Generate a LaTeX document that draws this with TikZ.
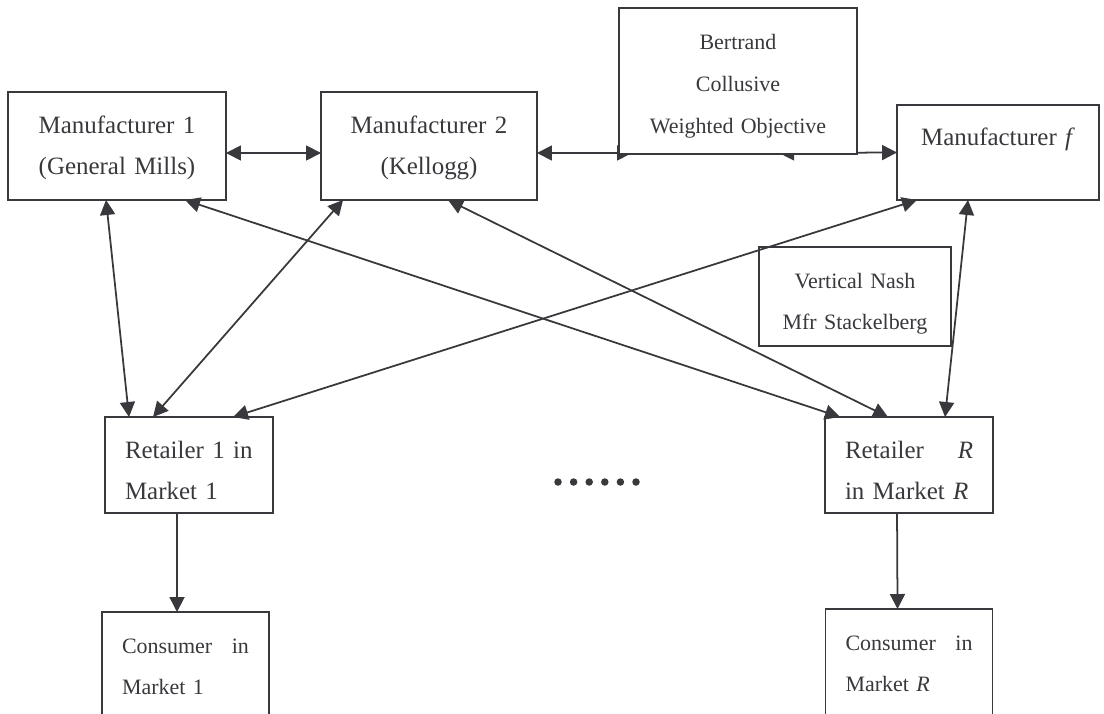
\documentclass[tikz,border=0pt]{standalone}
\usepackage{fontspec}
\setmainfont{Liberation Serif}
\usepackage{tikz}
\usetikzlibrary{positioning,arrows.meta,calc,backgrounds}
\definecolor{ink}{HTML}{38383D}
\newcommand{\bigtxt}{\fontsize{14.2}{23.8}\selectfont}
\newcommand{\smalltxt}{\fontsize{12.5}{23.8}\selectfont}
\tikzset{
  box/.style  ={rectangle, draw=ink, line width=1pt, inner sep=0pt, outer sep=0pt,
                anchor=base, text=ink},
  mfr/.style  ={box, font=\bigtxt, align=center},
  mode/.style ={box, font=\smalltxt, align=center},
  shop/.style ={box, font=\bigtxt, align=left, text width=2.56cm, inner xsep=0.4cm},
  buyer/.style={box, font=\smalltxt, align=left, text width=2.54cm, inner xsep=0.4cm},
  % two-way link between stages of the channel
  link/.style ={draw=ink, line width=1pt,
                {Triangle[length=0.3cm,width=0.3cm]}-{Triangle[length=0.3cm,width=0.3cm]}},
  flow/.style ={draw=ink, line width=1pt, -{Triangle[length=0.3cm,width=0.3cm]}},
}
% from node / x offset on its bottom edge / to node / x offset on its top edge
\def\crosslinks{M1/98/R1/24, M2/22/R1/48, M1/177/RR/15,
                M2/127/RR/63, Mf/20/R1/128, Mf/71/RR/120}

\begin{document}
\begin{tikzpicture}[x=0.02cm, y=-0.02cm]
\useasboundingbox (0,0) rectangle (1104,713);
\clip (0,0) rectangle (1104,713);
% manufacturers
\node[mfr, text width=4.36cm, text height=0.82cm, text depth=1.34cm] (M1) at (117,133)
  {Manufacturer 1\\(General Mills)};
\node[mfr, text width=4.32cm, text height=0.82cm, text depth=1.34cm] (M2) at (429,133)
  {Manufacturer 2\\(Kellogg)};
\node[mfr, text width=4.04cm, text height=0.80cm, text depth=1.10cm] (Mf) at (998,145)
  {Manufacturer \textit{f}};
% conduct boxes
\node[mode, fill=white, text width=4.76cm, text height=0.84cm, text depth=2.08cm] (Bt) at (738,50)
  {Bertrand\\Collusive\\Weighted Objective};
\node[mode, text width=3.84cm, text height=0.82cm, text depth=1.16cm] (VN) at (855,288)
  {Vertical Nash\\Mfr Stackelberg};
% retailers and consumers
\node[shop, text height=0.82cm, text depth=1.10cm] (R1) at (189,458) {Retailer 1 in\\Market 1};
\node[shop, text height=0.82cm, text depth=1.10cm] (RR) at (909,458)
  {Retailer\hfill\textit{R}\\in Market \textit{R}};
\node[buyer, text height=0.82cm, text depth=1.34cm] (C1) at (185.5,653) {Consumer\hfill in\\Market 1};
\node[buyer, text height=0.82cm, text depth=1.40cm] (CR) at (909,650)
  {Consumer\hfill in\\Market \textit{R}};
\coordinate (bl) at ($(Bt.south west)+(13,-1)$);
\coordinate (br) at ($(Bt.south west)+(160,-1)$);
\begin{scope}[on background layer]
  \draw[link] ($(M1.east)+(0,7)$) -- ($(M2.west)+(0,7)$);
  \draw[link] ($(M2.east)+(0,7)$) -- (bl);
  \draw[link] (br) -- (Mf.west);
  \foreach \a/\da/\b/\db in \crosslinks
    {\draw[link] ($(\a.south west)+(\da,0)$) -- ($(\b.north west)+(\db,0)$);}
  \draw[flow] ($(R1.south west)+(72,0)$) -- ($(C1.north west)+(75,0)$);
  \draw[flow] ($(RR.south west)+(72,0)$) -- ($(CR.north west)+(72,0)$);
\end{scope}
\foreach \i in {0,...,5} \fill[ink] (558+\i*15.6,482) circle (0.075cm);
\end{tikzpicture}
\end{document}
